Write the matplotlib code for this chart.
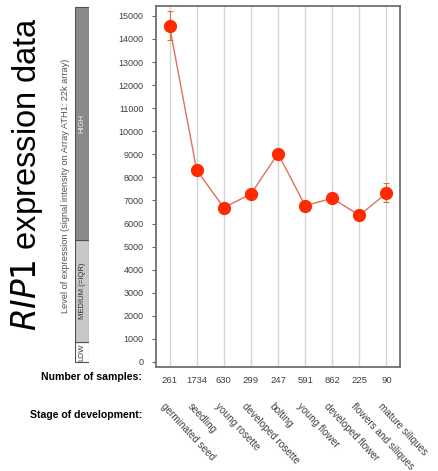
import numpy as np
import matplotlib.pyplot as plt

plt.rcParams['font.family'] = ['Liberation Sans', 'DejaVu Sans']

stages = ['germinated seed', 'seedling', 'young rosette', 'developed rosette',
          'bolting', 'young flower', 'developed flower', 'flowers and siliques',
          'mature siliques']
n_samples = [261, 1734, 630, 299, 247, 591, 862, 225, 90]
expression = [14550, 8320, 6690, 7280, 9030, 6780, 7090, 6360, 7310]
err_low = [590, 0, 0, 0, 0, 0, 0, 0, 390]
err_high = [660, 0, 0, 0, 0, 0, 0, 0, 460]
yticks = list(range(0, 16000, 1000))

# expression level bands: (bottom, top, colour, label)
bands = [(0, 870, 'white', 'LOW'),
         (870, 5290, '#c8c8c8', 'MEDIUM (=IQR)'),
         (5290, 15390, '#8a8a8a', 'HIGH')]

W, H = 438, 471
fig = plt.figure(figsize=(W / 100, H / 100), dpi=100)
ylim = (-217, 15430)

ax = fig.add_axes([156 / W, 1 - 367 / H, (400 - 156) / W, (367 - 6) / H])
x = np.arange(len(stages))
for xi in x:
    ax.axvline(xi, color='#d4d4d4', lw=1, zorder=0)
ax.plot(x, expression, color='#e0705a', lw=1, zorder=2)
ax.errorbar(x, expression, yerr=[err_low, err_high], fmt='none',
            ecolor='#e07040', elinewidth=0.8, capsize=2.5, capthick=0.8, zorder=2)
ax.plot(x, expression, 'o', color='#ff2a00', ms=8.5, mec='#ff2a00', zorder=3)
ax.set_xlim(-0.5, 8.5)
ax.set_ylim(*ylim)
ax.set_xticks([])
ax.set_yticks(yticks)
ax.set_yticklabels([str(v) for v in yticks], fontsize=6.5, color='#404040')
ax.tick_params(axis='y', length=3, width=0.8, color='#606060', pad=6)
for sp in ax.spines.values():
    sp.set_color('#707070')
    sp.set_linewidth(1.3)

# level bar
bar = fig.add_axes([75 / W, 1 - 367 / H, (89 - 75) / W, (367 - 6) / H])
bar.set_xlim(0, 1)
bar.set_ylim(*ylim)
for lo, hi, col, lab in bands:
    bar.bar(0.5, hi - lo, bottom=lo, width=1, color=col, edgecolor='#505050', lw=0.8)
    bar.text(0.5, (lo + hi) / 2, lab, rotation=90, ha='center', va='center',
             fontsize=5.5, color='#f0f0f0' if lab == 'HIGH' else '#303030')
bar.axis('off')

fig.text(66 / W, 1 - 186 / H,
         'Level of expression (signal intensity on Array ATH1: 22k array)',
         rotation=90, ha='center', va='center', fontsize=6.6, color='#505050')
fig.text(27 / W, 1 - 174 / H, r'$\mathit{RIP1}$ expression data', rotation=90,
         ha='center', va='center', fontsize=23.5, color='black')

# sample counts and stage names below the plot
fig.text(142 / W, 1 - 377 / H, 'Number of samples:', ha='right', va='center',
         fontsize=7.6, fontweight='bold')
fig.text(142 / W, 1 - 415 / H, 'Stage of development:', ha='right', va='center',
         fontsize=7.6, fontweight='bold')
for xi, n, s in zip(x, n_samples, stages):
    ax.annotate(str(n), (xi, 0), xycoords=('data', 'axes fraction'),
                xytext=(0, -10), textcoords='offset points', ha='center',
                va='center', fontsize=6.8, color='#404040')
    ax.annotate(s, (xi, 0), xycoords=('data', 'axes fraction'),
                xytext=(-5, -27), textcoords='offset points', ha='left',
                va='center', rotation=-47, rotation_mode='anchor',
                fontsize=7.2, color='#404040')

fig.savefig('out.png', dpi=100)
